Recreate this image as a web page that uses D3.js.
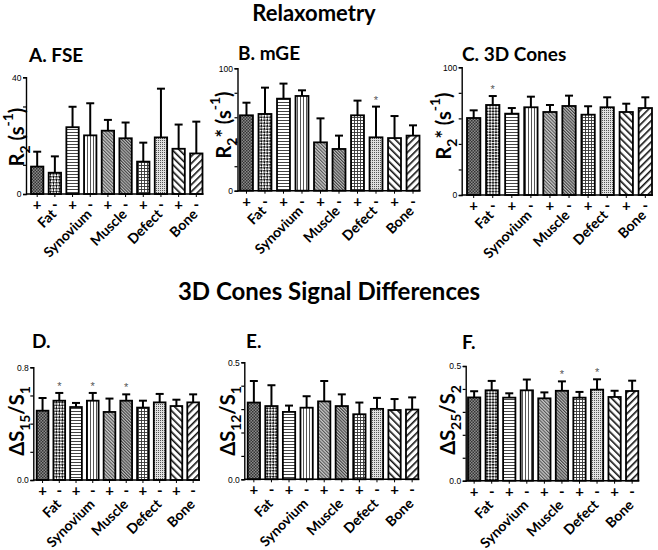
<!DOCTYPE html>
<html><head><meta charset="utf-8">
<script src="https://cdn.jsdelivr.net/npm/d3@7"></script>
<style>body{margin:0;background:#fff}svg{display:block}</style>
</head><body>
<script>
// ---------- DATA ----------
const categories = ["Fat", "Synovium", "Muscle", "Defect", "Bone"];
const groups = ["+", "-"];

const fseMean = [9.4, 7.3, 22.9, 20.1, 21.7, 19.1, 11.1, 19.4, 15.5, 13.9];
const fseErr  = [5.1, 5.6, 7.0, 11.0, 3.7, 5.4, 6.5, 16.7, 8.3, 10.9];
const fseStar = [];

const mgeMean = [61.6, 62.7, 75.2, 77.4, 39.5, 34.1, 61.6, 43.6, 43.0, 45.0];
const mgeErr  = [10.3, 21.5, 12.3, 4.6, 19.6, 10.9, 12.0, 25.1, 18.0, 8.4];
const mgeStar = [7];

const conesMean = [60.3, 70.5, 63.7, 68.7, 65.0, 69.7, 62.9, 68.7, 65.0, 68.1];
const conesErr  = [6.0, 7.0, 4.4, 8.3, 5.5, 8.1, 6.6, 7.8, 6.5, 8.4];
const conesStar = [1];

const ds15Mean = [0.492, 0.563, 0.518, 0.563, 0.483, 0.563, 0.514, 0.551, 0.525, 0.551];
const ds15Err  = [0.090, 0.055, 0.029, 0.055, 0.095, 0.045, 0.049, 0.060, 0.045, 0.057];
const ds15Star = [1, 3, 5];

const ds12Mean = [0.328, 0.313, 0.288, 0.306, 0.333, 0.313, 0.278, 0.301, 0.296, 0.298];
const ds12Err  = [0.092, 0.089, 0.027, 0.049, 0.087, 0.050, 0.050, 0.047, 0.047, 0.052];
const ds12Star = [];

const ds25Mean = [0.363, 0.394, 0.362, 0.394, 0.359, 0.392, 0.362, 0.397, 0.365, 0.391];
const ds25Err  = [0.027, 0.041, 0.019, 0.047, 0.026, 0.041, 0.025, 0.045, 0.027, 0.045];
const ds25Star = [5, 7];

const ticksR2  = [0, 10, 20, 30, 40];
const ticksR2s = [0, 20, 40, 60, 80, 100];
const ticksD15 = [0, 0.2, 0.4, 0.6, 0.8];
const ticksD5  = [0, 0.1, 0.2, 0.3, 0.4, 0.5];
const labelsR2  = ["0", "40"];
const labelsR2s = ["0", "100"];
const labelsD15 = ["0.0", "0.8"];
const labelsD5  = ["0.0", "0.5"];

// ---------- LAYOUT ----------
const W = 658, H = 550;
const svg = d3.select("body").append("svg").attr("width", W).attr("height", H)
  .style("font-family", "Lato, 'Open Sans', Arial, sans-serif");

const defs = svg.append("defs");
function pat(id, size, build, transform) {
  const p = defs.append("pattern").attr("id", id).attr("patternUnits", "userSpaceOnUse")
    .attr("width", size).attr("height", size);
  if (transform) p.attr("patternTransform", transform);
  build(p);
}
pat("p0", 3, p => {
  p.append("rect").attr("width", 3).attr("height", 3).attr("fill", "#8a8a8a");
  p.append("rect").attr("width", 1.5).attr("height", 1.5).attr("fill", "#333");
  p.append("rect").attr("x", 1.5).attr("y", 1.5).attr("width", 1.5).attr("height", 1.5).attr("fill", "#333");
});
pat("p1", 4.2, p => {
  p.append("rect").attr("width", 4.2).attr("height", 4.2).attr("fill", "#fff");
  p.append("rect").attr("width", 2.1).attr("height", 2.1).attr("fill", "#111");
  p.append("rect").attr("x", 2.1).attr("y", 2.1).attr("width", 2.1).attr("height", 2.1).attr("fill", "#111");
}, "rotate(45)");
pat("p2", 3, p => {
  p.append("rect").attr("width", 3).attr("height", 3).attr("fill", "#fff");
  p.append("rect").attr("width", 3).attr("height", 1).attr("fill", "#444");
});
pat("p3", 3, p => {
  p.append("rect").attr("width", 3).attr("height", 3).attr("fill", "#fff");
  p.append("rect").attr("width", 1).attr("height", 3).attr("fill", "#555");
});
pat("p4", 2.4, p => {
  p.append("rect").attr("width", 2.4).attr("height", 2.4).attr("fill", "#c8c8c8");
  p.append("rect").attr("width", 1.1).attr("height", 2.4).attr("fill", "#555");
}, "rotate(-45)");
pat("p5", 2.2, p => {
  p.append("rect").attr("width", 2.2).attr("height", 2.2).attr("fill", "#bbb");
  p.append("rect").attr("width", 1.1).attr("height", 2.2).attr("fill", "#444");
}, "rotate(-45)");
pat("p6", 3, p => {
  p.append("rect").attr("width", 3).attr("height", 3).attr("fill", "#fff");
  p.append("rect").attr("width", 3).attr("height", 0.9).attr("fill", "#333");
  p.append("rect").attr("width", 0.9).attr("height", 3).attr("fill", "#333");
});
pat("p7", 2, p => {
  p.append("rect").attr("width", 2).attr("height", 2).attr("fill", "#e0e0e0");
  p.append("rect").attr("width", 1).attr("height", 1).attr("fill", "#555");
});
pat("p8", 5, p => {
  p.append("rect").attr("width", 5).attr("height", 5).attr("fill", "#fff");
  p.append("rect").attr("width", 1.6).attr("height", 5).attr("fill", "#111");
}, "rotate(-45)");
pat("p9", 5, p => {
  p.append("rect").attr("width", 5).attr("height", 5).attr("fill", "#fff");
  p.append("rect").attr("width", 1.6).attr("height", 5).attr("fill", "#111");
}, "rotate(45)");

// Titles
svg.append("text").attr("x", 314).attr("y", 21).attr("text-anchor", "middle")
  .attr("font-size", 22).attr("font-weight", "bold").text("Relaxometry");
svg.append("text").attr("x", 329).attr("y", 300).attr("text-anchor", "middle")
  .attr("font-size", 24).attr("font-weight", "bold").text("3D Cones Signal Differences");

const barKeys = [];
categories.forEach(c => groups.forEach(g => barKeys.push(c + g)));

const panels = [
  {title: "A. FSE", tx: 29, ty: 62, mean: fseMean, err: fseErr, star: fseStar, ticks: ticksR2, labels: labelsR2, max: 40,
   ax: 26, bl: 31, br: 202.5, yt: 77.3, yb: 194, lx: 15.5, ly: 137, ylab: [["R",""],["2","sub"],[" (s",""],["-1","sup"],[")",""]], row: 0},
  {title: "B. mGE", tx: 238, ty: 60, mean: mgeMean, err: mgeErr, star: mgeStar, ticks: ticksR2s, labels: labelsR2s, max: 100,
   ax: 237.5, bl: 240, br: 419.5, yt: 68.3, yb: 190.7, lx: 223, ly: 125, ylab: [["R",""],["2","sub"],["*",""],[" (s",""],["-1","sup"],[")",""]], row: 0},
  {title: "C. 3D Cones", tx: 462, ty: 61, mean: conesMean, err: conesErr, star: conesStar, ticks: ticksR2s, labels: labelsR2s, max: 100,
   ax: 461.7, bl: 467, br: 652, yt: 67.3, yb: 195, lx: 443, ly: 126, ylab: [["R",""],["2","sub"],["*",""],[" (s",""],["-1","sup"],[")",""]], row: 0},
  {title: "D.", tx: 32, ty: 348, mean: ds15Mean, err: ds15Err, star: ds15Star, ticks: ticksD15, labels: labelsD15, max: 0.8,
   ax: 33.3, bl: 36.7, br: 199, yt: 367.3, yb: 480, lx: 16, ly: 421, ylab: [["ΔS",""],["15","sub"],["/S",""],["1","sub"]], row: 1},
  {title: "E.", tx: 246, ty: 348, mean: ds12Mean, err: ds12Err, star: ds12Star, ticks: ticksD5, labels: labelsD5, max: 0.5,
   ax: 244.3, bl: 247.7, br: 418.3, yt: 362.3, yb: 479.3, lx: 227, ly: 421, ylab: [["ΔS",""],["12","sub"],["/S",""],["1","sub"]], row: 1},
  {title: "F.", tx: 462, ty: 349, mean: ds25Mean, err: ds25Err, star: ds25Star, ticks: ticksD5, labels: labelsD5, max: 0.5,
   ax: 465.7, bl: 468, br: 638.3, yt: 366, yb: 480.7, lx: 447, ly: 420, ylab: [["ΔS",""],["25","sub"],["/S",""],["2","sub"]], row: 1},
];

panels.forEach(P => {
  const g = svg.append("g");
  const x = d3.scaleBand().domain(barKeys).range([P.bl, P.br]).paddingInner(0.3).paddingOuter(0);
  const y = d3.scaleLinear().domain([0, P.max]).range([P.yb, P.yt]);
  const data = P.mean.map((m, i) => ({key: barKeys[i], i, m, e: P.err[i], star: P.star.includes(i)}));

  g.append("text").attr("x", P.tx).attr("y", P.ty).attr("font-size", 19).attr("font-weight", "bold").text(P.title);

  const yAxis = d3.axisLeft(y).tickValues(P.ticks).tickSize(3).tickPadding(1.5)
    .tickFormat((d, i) => (i === 0 ? P.labels[0] : (i === P.ticks.length - 1 ? P.labels[1] : "")));
  const ya = g.append("g").attr("transform", `translate(${P.ax},0)`).call(yAxis);
  ya.select(".domain").attr("stroke", "#000").attr("stroke-width", 1.4);
  ya.selectAll(".tick line").attr("stroke", "#000").attr("stroke-width", 1.2);
  ya.selectAll(".tick text").attr("font-size", 8.5).attr("font-family", "Arial, 'Liberation Sans', sans-serif").attr("fill", "#000");

  data.forEach(d => {
    const cx = x(d.key) + x.bandwidth() / 2;
    g.append("line").attr("x1", cx).attr("x2", cx).attr("y1", y(d.m)).attr("y2", y(d.m + d.e))
      .attr("stroke", "#000").attr("stroke-width", 2);
    g.append("line").attr("x1", cx - 4).attr("x2", cx + 4).attr("y1", y(d.m + d.e)).attr("y2", y(d.m + d.e))
      .attr("stroke", "#000").attr("stroke-width", 2);
    if (d.star) {
      g.append("text").attr("x", cx).attr("y", y(d.m + d.e) - 3).attr("text-anchor", "middle")
        .attr("font-size", 11).attr("fill", "#555").attr("font-family", "Arial, sans-serif").text("*");
    }
  });

  g.selectAll("rect.bar").data(data).join("rect").attr("class", "bar")
    .attr("x", d => x(d.key)).attr("width", x.bandwidth())
    .attr("y", d => y(d.m)).attr("height", d => y(0) - y(d.m))
    .attr("fill", d => `url(#p${d.i})`).attr("stroke", "#000").attr("stroke-width", 1.8);

  g.append("line").attr("x1", P.ax).attr("x2", P.br + 1).attr("y1", P.yb).attr("y2", P.yb)
    .attr("stroke", "#000").attr("stroke-width", 1.6);
  data.forEach(d => {
    const cx = x(d.key) + x.bandwidth() / 2;
    g.append("line").attr("x1", cx).attr("x2", cx).attr("y1", P.yb).attr("y2", P.yb + 3)
      .attr("stroke", "#000").attr("stroke-width", 1);
    g.append("text").attr("x", cx).attr("y", P.yb + 16).attr("text-anchor", "middle")
      .attr("font-size", 15).attr("font-weight", "bold").text(groups[d.i % 2]);
  });
  categories.forEach((c, ci) => {
    const x1 = x(barKeys[ci * 2]) + x.bandwidth() / 2, x2 = x(barKeys[ci * 2 + 1]) + x.bandwidth() / 2;
    const ex = (x1 + x2) / 2 + 4, ey = P.yb + (P.row === 0 ? 14 : 18);
    g.append("text").attr("transform", `translate(${ex},${ey}) rotate(-45)`)
      .attr("text-anchor", "end").attr("dy", "0.72em")
      .attr("font-size", 14).attr("font-weight", "bold").text(c);
  });

  const yl = g.append("text").attr("transform", `translate(${P.lx},${P.ly}) rotate(-90)`)
    .attr("text-anchor", "middle").attr("dominant-baseline", "central")
    .attr("font-size", 20).attr("font-weight", "bold");
  P.ylab.forEach(([t, k]) => {
    const ts = yl.append("tspan").text(t);
    if (k === "sub") ts.attr("baseline-shift", "sub").attr("font-size", 14);
    if (k === "sup") ts.attr("baseline-shift", "super").attr("font-size", 14);
  });
});
</script>
</body></html>
